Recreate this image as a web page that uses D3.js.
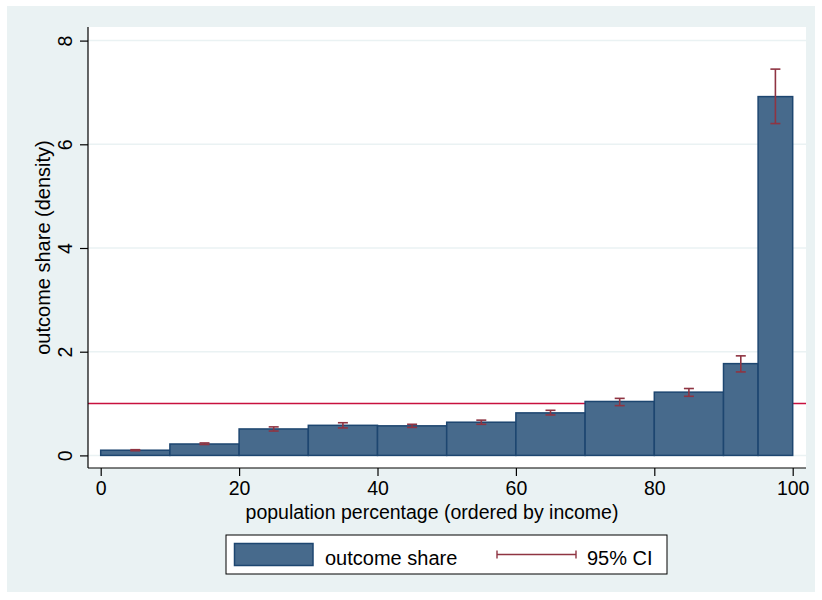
<!DOCTYPE html>
<html>
<head>
<meta charset="utf-8">
<script src="https://cdn.jsdelivr.net/npm/d3@7"></script>
<style>
  html, body { margin: 0; padding: 0; background: #ffffff; }
  svg { display: block; font-family: "Liberation Sans", Arial, Helvetica, sans-serif; }
</style>
</head>
<body>
<svg id="chart" width="822" height="600"></svg>
<script>
// Population bins (percent, ordered by income)
const binStart = [0, 10, 20, 30, 40, 50, 60, 70, 80, 90, 95];
const binEnd   = [10, 20, 30, 40, 50, 60, 70, 80, 90, 95, 100];
// Outcome share density per bin
const shareValues = [0.10, 0.22, 0.51, 0.58, 0.57, 0.64, 0.82, 1.04, 1.22, 1.77, 6.92];
// 95% confidence interval bounds
const ciLower = [0.09, 0.21, 0.47, 0.53, 0.54, 0.60, 0.78, 0.96, 1.14, 1.61, 6.40];
const ciUpper = [0.11, 0.24, 0.55, 0.63, 0.60, 0.68, 0.87, 1.10, 1.29, 1.92, 7.45];
// Reference line (equal share)
const referenceLevel = 1;
const xTicks = [0, 20, 40, 60, 80, 100];
const yTicks = [0, 2, 4, 6, 8];

const svg = d3.select("#chart");

const colors = {
  outer: "#eaf2f3",
  plot: "#ffffff",
  grid: "#eaf2f3",
  barFill: "#476a8c",
  barStroke: "#1d4670",
  ci: "#8f3442",
  ref: "#c8103f",
  axis: "#000000"
};
const tickFont = 19.5, titleFont = 20;

// Graph region background
svg.append("rect").attr("x", 7).attr("y", 6).attr("width", 808).attr("height", 586)
  .attr("fill", colors.outer);

const plot = { left: 88, right: 806, top: 27, bottom: 468 };
svg.append("rect").attr("x", plot.left).attr("y", plot.top)
  .attr("width", plot.right - plot.left).attr("height", plot.bottom - plot.top)
  .attr("fill", colors.plot);

const x = d3.scaleLinear().domain([0, 100]).range([100.7, 792.7]);
const y = d3.scaleLinear().domain([0, 8]).range([455.4, 40.6]);

// Horizontal gridlines
svg.append("g").selectAll("line").data(yTicks).join("line")
  .attr("x1", plot.left).attr("x2", plot.right)
  .attr("y1", d => y(d)).attr("y2", d => y(d))
  .attr("stroke", colors.grid).attr("stroke-width", 1.5);

// Reference line at density 1
svg.append("line")
  .attr("x1", plot.left).attr("x2", plot.right)
  .attr("y1", y(referenceLevel)).attr("y2", y(referenceLevel))
  .attr("stroke", colors.ref).attr("stroke-width", 1.5);

// Bars
const bins = binStart.map((s, i) => ({ s, e: binEnd[i], v: shareValues[i], lo: ciLower[i], hi: ciUpper[i] }));
svg.append("g").selectAll("rect").data(bins).join("rect")
  .attr("x", d => x(d.s)).attr("width", d => x(d.e) - x(d.s))
  .attr("y", d => y(d.v)).attr("height", d => y(0) - y(d.v))
  .attr("fill", colors.barFill).attr("stroke", colors.barStroke).attr("stroke-width", 1.5);

// Confidence intervals
const capW = 5;
const ci = svg.append("g").attr("stroke", colors.ci).attr("stroke-width", 1.6).attr("fill", "none");
bins.forEach(d => {
  const cx = x((d.s + d.e) / 2);
  ci.append("line").attr("x1", cx).attr("x2", cx).attr("y1", y(d.lo)).attr("y2", y(d.hi));
  ci.append("line").attr("x1", cx - capW).attr("x2", cx + capW).attr("y1", y(d.lo)).attr("y2", y(d.lo));
  ci.append("line").attr("x1", cx - capW).attr("x2", cx + capW).attr("y1", y(d.hi)).attr("y2", y(d.hi));
});

// Axes
const yAxis = svg.append("g").attr("transform", `translate(${plot.left},0)`)
  .call(d3.axisLeft(y).tickValues(yTicks).tickSize(8).tickPadding(0).tickFormat(d3.format("d")));
yAxis.select(".domain").attr("d", `M0,${plot.top}V${plot.bottom}`).attr("stroke-width", 1.2);
yAxis.selectAll(".tick line").attr("stroke-width", 1.2);
yAxis.selectAll(".tick text")
  .attr("font-size", tickFont).attr("fill", "#000")
  .attr("x", 0).attr("dy", null)
  .attr("transform", "translate(-23,0) rotate(-90)")
  .attr("text-anchor", "middle").attr("dominant-baseline", "central");

const xAxis = svg.append("g").attr("transform", `translate(0,${plot.bottom})`)
  .call(d3.axisBottom(x).tickValues(xTicks).tickSize(8).tickPadding(5.5).tickFormat(d3.format("d")));
xAxis.select(".domain").attr("d", `M${plot.left},0H${plot.right}`).attr("stroke-width", 1.2);
xAxis.selectAll(".tick line").attr("stroke-width", 1.2);
xAxis.selectAll(".tick text").attr("font-size", tickFont).attr("fill", "#000");

// Axis titles
svg.append("text").attr("x", 432).attr("y", 518.5)
  .attr("text-anchor", "middle").attr("font-size", tickFont).text("population percentage (ordered by income)");
svg.append("text").attr("transform", `translate(50,${(plot.top + plot.bottom) / 2}) rotate(-90)`)
  .attr("text-anchor", "middle").attr("font-size", titleFont).text("outcome share (density)");

// Legend
const lg = svg.append("g");
lg.append("rect").attr("x", 226).attr("y", 535).attr("width", 441).attr("height", 39)
  .attr("fill", "#fff").attr("stroke", "#000").attr("stroke-width", 1);
lg.append("rect").attr("x", 234.5).attr("y", 543.5).attr("width", 78.5).attr("height", 22)
  .attr("fill", colors.barFill).attr("stroke", colors.barStroke).attr("stroke-width", 1.5);
lg.append("text").attr("x", 325).attr("y", 565).attr("font-size", titleFont).text("outcome share");
const ly = 554.5;
lg.append("line").attr("x1", 497).attr("x2", 576).attr("y1", ly).attr("y2", ly)
  .attr("stroke", colors.ci).attr("stroke-width", 1.4);
[497, 576].forEach(px => lg.append("line").attr("x1", px).attr("x2", px)
  .attr("y1", ly - 4).attr("y2", ly + 4).attr("stroke", colors.ci).attr("stroke-width", 1.4));
lg.append("text").attr("x", 587).attr("y", 565).attr("font-size", titleFont).text("95% CI");
</script>
</body>
</html>
